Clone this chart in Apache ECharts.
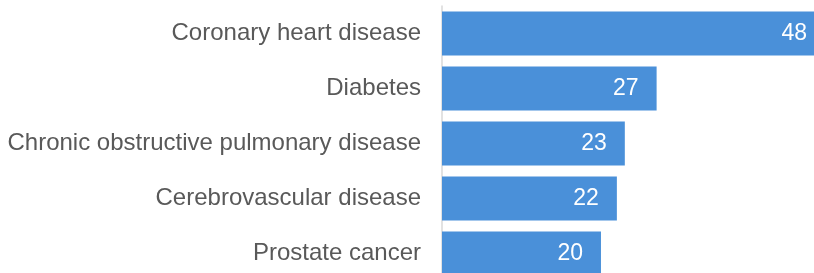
<!DOCTYPE html>
<html>
<head>
<meta charset="utf-8">
<script src="https://cdn.jsdelivr.net/npm/echarts@6/dist/echarts.min.js"></script>
<style>
html,body{margin:0;padding:0;background:#fff;overflow:hidden;}
#main{width:814px;height:281px;}
</style>
</head>
<body>
<div id="main"></div>
<script>
var categories = ['Coronary heart disease', 'Diabetes', 'Chronic obstructive pulmonary disease', 'Cerebrovascular disease', 'Prostate cancer'];
var values = [48, 27, 23, 22, 20];

var myChart = echarts.init(document.getElementById('main'));

var option = {
	animation: false,
	grid: {
		left: 442,
		right: 0,
		top: 6,
		bottom: 0
	},
	xAxis: {
		type: 'value',
		min: 0,
		max: 46.8,
		show: false
	},
	yAxis: {
		type: 'category',
		data: categories,
		inverse: true,
		axisLine: { lineStyle: { color: '#d9d9d9', width: 1.5 } },
		axisTick: { show: false },
		axisLabel: {
			color: '#595959',
			fontFamily: 'Liberation Sans',
			fontSize: 24,
			margin: 21
		}
	},
	series: [
		{
			type: 'bar',
			data: values.map(function (v, i) {
				// 第一根柱子超出坐标轴，标签靠边
				return i == 0 ? { value: v, label: { distance: 7 } } : v;
			}),
			barCategoryGap: '20%',
			clip: true,
			itemStyle: { color: '#4a90d9' },
			label: {
				show: true,
				position: 'insideRight',
				distance: 18,
				color: '#fff',
				fontFamily: 'Liberation Sans',
				fontSize: 23
			}
		}
	]
};

myChart.setOption(option);
</script>
</body>
</html>
